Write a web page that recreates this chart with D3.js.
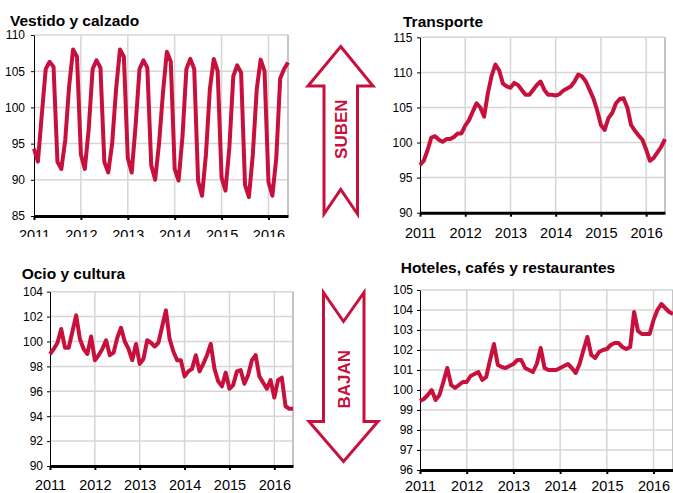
<!DOCTYPE html>
<html>
<head>
<meta charset="utf-8">
<script src="https://cdn.jsdelivr.net/npm/d3@7"></script>
<style>
body { margin: 0; background: #fff; }
svg { display: block; font-family: "Liberation Sans", Arial, sans-serif; }
</style>
</head>
<body>
<svg id="chart" width="673" height="493"></svg>
<script>
// monthly index, Jan 2011 .. Jun 2016
var years = ["2011", "2012", "2013", "2014", "2015", "2016"];

var vestido = [94.3, 92.5, 99, 105.3, 106.3, 105.6, 92.5, 91.5, 95.5, 103, 108, 107,
    93.5, 91.5, 97, 105.3, 106.5, 105.5, 92.5, 91, 95, 102.5, 108, 107,
    93, 91, 97.5, 105.3, 106.5, 105.5, 92, 90, 95, 102, 107.7, 106.3,
    91.5, 89.9, 96, 105.3, 106.7, 105.3, 89.8, 87.8, 93.5, 102.5, 106.7, 105,
    90.3, 88.5, 94.5, 104.3, 105.8, 104.8, 89.3, 87.6, 93.5, 102.5, 106.6, 105,
    89.7, 87.8, 93, 104, 105.3, 106.2];

var transporte = [96.8, 97.4, 98.9, 100.7, 100.9, 100.4, 100.1, 100.5, 100.5, 100.8, 101.3, 101.3,
    102.4, 103.2, 104.4, 105.6, 105, 103.7, 107, 109.5, 111.1, 110.3, 108.4, 108,
    107.8, 108.5, 108.2, 107.5, 106.8, 106.8, 107.5, 108.2, 108.7, 107.5, 106.8, 106.8,
    106.7, 106.9, 107.4, 107.7, 108, 108.7, 109.7, 109.4, 108.7, 107.5, 106.3, 104.6,
    102.5, 101.8, 103.5, 104.2, 105.6, 106.2, 106.3, 105, 102.5, 101.7, 101, 100.4,
    99, 97.4, 97.8, 98.6, 99.4, 100.5];

var ocio = [99, 99.4, 99.9, 101, 99.5, 99.5, 100.8, 102.1, 100.2, 99.4, 99, 100.4,
    98.5, 98.9, 99.4, 100.1, 98.9, 99.1, 100.3, 101.1, 100, 99.4, 98.5, 99.8,
    98.2, 98.6, 100.1, 99.9, 99.6, 99.9, 101.2, 102.5, 100.2, 99.2, 98.5, 98.5,
    97.2, 97.6, 97.8, 98.9, 97.6, 98.2, 98.9, 99.8, 97.8, 96.8, 96.4, 97.5,
    96.2, 96.5, 97.6, 97.7, 96.6, 97.3, 98.5, 98.9, 97.2, 96.7, 96.2, 96.9,
    95.5, 96.9, 97.1, 94.8, 94.6, 94.6];

var hoteles = [99.45, 99.55, 99.75, 100, 99.5, 99.75, 100.4, 101.1, 100.25, 100.1, 100.25, 100.4,
    100.4, 100.7, 100.8, 100.9, 100.5, 100.65, 101.5, 102.3, 101.25, 101.15, 101.1, 101.2,
    101.3, 101.5, 101.5, 101.1, 101, 100.9, 101.3, 102.1, 101.1, 101, 101, 101,
    101.1, 101.2, 101.3, 101.1, 100.85, 101.3, 102, 102.65, 101.75, 101.6, 101.9, 102,
    102.05, 102.25, 102.35, 102.35, 102.15, 102.05, 102.15, 103.9, 102.95, 102.8, 102.8, 102.8,
    103.5, 104, 104.3, 104.1, 103.9, 103.8];

var vestidoTicks = [85, 90, 95, 100, 105, 110];
var transporteTicks = [90, 95, 100, 105, 110, 115];
var ocioTicks = [90, 92, 94, 96, 98, 100, 102, 104];
var hotelesTicks = [96, 97, 98, 99, 100, 101, 102, 103, 104, 105];

(function() {
    "use strict";

    var svg = d3.select("#chart");
    var RED = "#c8103c";
    var GRID = "#d6d6d6";

    // the year labels of the first chart are cut by the chart below it
    svg.append("defs").append("clipPath").attr("id", "cutYears")
        .append("rect").attr("x", 0).attr("y", 0).attr("width", 673).attr("height", 237);

    var panels = [
        {title: "Vestido y calzado", values: vestido, ticks: vestidoTicks, clip: "cutYears",
            left: 34, right: 288, top: 35, bottom: 216, titleX: 10, titleY: 26, yearY: 240, labelGap: 9},
        {title: "Transporte", values: transporte, ticks: transporteTicks,
            left: 420, right: 665, top: 37.3, bottom: 212.7, titleX: 403, titleY: 27.3, yearY: 238.3, labelGap: 7.5},
        {title: "Ocio y cultura", values: ocio, ticks: ocioTicks,
            left: 50, right: 293, top: 291.7, bottom: 466, titleX: 21.7, titleY: 279.3, yearY: 490, labelGap: 7},
        {title: "Hoteles, cafés y restaurantes", values: hoteles, ticks: hotelesTicks,
            left: 420, right: 673, top: 290, bottom: 470, titleX: 400.7, titleY: 273.3, yearY: 491, labelGap: 7}
    ];

    function drawPanel(p) {
        var x = d3.scaleLinear().domain([0, p.values.length - 1]).range([p.left, p.right]);
        var y = d3.scaleLinear().domain([p.ticks[0], p.ticks[p.ticks.length - 1]]).range([p.bottom, p.top]);
        var yearIdx = years.map(function(d, i) { return i * 12; });
        var g = svg.append("g");

        // gridlines
        g.append("g").selectAll("line").data(p.ticks.slice(1)).enter().append("line")
            .attr("x1", p.left).attr("x2", p.right)
            .attr("y1", y).attr("y2", y)
            .attr("stroke", GRID).attr("stroke-width", 1.5);
        g.append("g").selectAll("line").data(yearIdx.slice(1)).enter().append("line")
            .attr("x1", x).attr("x2", x)
            .attr("y1", p.top).attr("y2", p.bottom)
            .attr("stroke", GRID).attr("stroke-width", 1.5);
        g.append("line")
            .attr("x1", p.right).attr("x2", p.right)
            .attr("y1", p.top).attr("y2", p.bottom)
            .attr("stroke", "#c4c4c4").attr("stroke-width", 2);

        // y axis
        var ya = g.append("g").attr("transform", "translate(" + p.left + ",0)")
            .call(d3.axisLeft(y).tickValues(p.ticks).tickSize(3).tickSizeOuter(0).tickPadding(p.labelGap - 3));
        ya.attr("font-family", null).attr("font-size", null);
        ya.selectAll("text").attr("font-size", 12).attr("fill", "#000");
        ya.selectAll("line, .domain").attr("stroke", "#000");

        // series
        var line = d3.line()
            .x(function(d, i) { return x(i); })
            .y(function(d) { return y(d); });
        g.append("path").datum(p.values)
            .attr("d", line)
            .attr("fill", "none")
            .attr("stroke", RED)
            .attr("stroke-width", 4)
            .attr("stroke-linejoin", "round");

        // x axis
        var xa = g.append("g").attr("transform", "translate(0," + p.bottom + ")")
            .call(d3.axisBottom(x).tickValues(yearIdx).tickSize(4).tickSizeOuter(0)
                .tickFormat(function(d) { return years[d / 12]; }));
        xa.attr("font-family", null).attr("font-size", null);
        xa.select(".domain").attr("stroke", "#000").attr("stroke-width", 3);
        xa.selectAll(".tick line").attr("stroke", "#000").attr("stroke-width", 2);
        xa.selectAll("text")
            .attr("dy", null)
            .attr("y", p.yearY - p.bottom)
            .attr("font-size", 14.5)
            .attr("fill", "#000");
        if (p.clip) {
            // wrap labels so the clip rect stays in page coords
            xa.selectAll(".tick text").each(function() {
                var t = d3.select(this);
                var tx = this.parentNode.getAttribute("transform");
                svg.append("g").attr("clip-path", "url(#" + p.clip + ")")
                    .append("text")
                    .attr("transform", tx + " translate(0," + p.bottom + ")")
                    .attr("y", t.attr("y"))
                    .attr("text-anchor", "middle")
                    .attr("font-size", 14.5)
                    .attr("fill", "#000")
                    .text(t.text());
                t.remove();
            });
        }

        g.append("text")
            .attr("x", p.titleX).attr("y", p.titleY)
            .attr("font-size", 15.5).attr("font-weight", "bold")
            .text(p.title);
    }

    panels.forEach(drawPanel);

    // arrows
    var outline = d3.line();
    var arrows = [
        {label: "SUBEN", cx: 341.3, cy: 129.2,
            pts: [[340.7, 46.5], [373, 86], [357.5, 86], [357.5, 214], [340.7, 189.5], [324, 214], [324, 86], [308, 86]]},
        {label: "BAJAN", cx: 343.8, cy: 379.2,
            pts: [[323.5, 292.5], [343.5, 321.5], [364, 292.5], [364, 421.5], [378, 421.5], [343.5, 461.5], [309, 421.5], [323.5, 421.5]]}
    ];
    arrows.forEach(function(a) {
        svg.append("path")
            .attr("d", outline(a.pts) + "Z")
            .attr("fill", "#fff")
            .attr("stroke", RED)
            .attr("stroke-width", 3)
            .attr("stroke-linejoin", "miter");
        svg.append("text")
            .attr("transform", "translate(" + a.cx + "," + a.cy + ") rotate(-90)")
            .attr("text-anchor", "middle")
            .attr("dy", "0.36em")
            .attr("font-size", 17)
            .attr("font-weight", "bold")
            .attr("fill", RED)
            .text(a.label);
    });
})();
</script>
</body>
</html>
